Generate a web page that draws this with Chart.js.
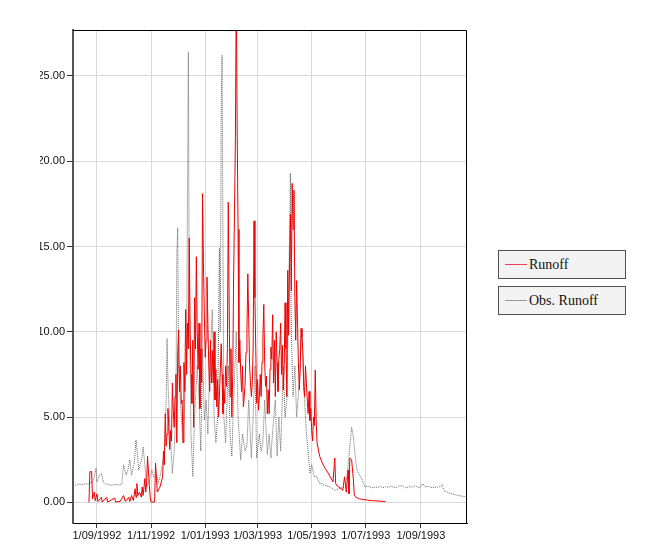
<!DOCTYPE html>
<html>
<head>
<meta charset="utf-8">
<title>Runoff</title>
<script src="https://cdn.jsdelivr.net/npm/chart.js@4.4.1/dist/chart.umd.min.js"></script>
<style>
  html, body { margin: 0; padding: 0; background: #fff; }
  body { width: 651px; height: 558px; position: relative; overflow: hidden; }
  #wrap { position: absolute; left: 40px; top: 0; width: 437px; height: 558px; }
  #legend { position: absolute; left: 498px; top: 250px; }
  .item {
    box-sizing: border-box; width: 128px; height: 29px; margin-bottom: 7px;
    border: 1px solid #505050; background: #f3f3f3;
    display: flex; align-items: center;
    font: 14px "Liberation Serif", "Times New Roman", serif; color: #111;
  }
  .item i { display: inline-block; width: 22px; height: 0; border-top: 1px solid; margin: 0 2px 0 6px; }
</style>
</head>
<body>
<div id="wrap"><canvas id="chart"></canvas></div>
<div id="legend"></div>
<script>
// days counted from 5/08/1992
const runoffDay = [18, 19, 21, 22, 24, 25, 27, 28, 32, 33,
  38, 39, 47, 48, 53, 57, 59, 63, 64, 66,
  68, 70, 71, 72, 73, 75, 77, 78, 79, 81,
  82, 83, 84, 86, 87, 88, 92, 93, 95, 98,
  101, 102, 103, 104, 105, 106, 107, 108, 109, 110,
  111, 112, 113, 114, 115, 116, 117, 118, 119, 120,
  121, 122, 123, 124, 125, 126, 127, 128, 129, 130,
  131, 132, 133, 134, 135, 136, 137, 138, 139, 140,
  141, 142, 143, 144, 145, 146, 147, 148, 149, 150,
  151, 152, 153, 154, 155, 156, 157, 158, 159, 160,
  161, 162, 163, 164, 165, 166, 167, 168, 169, 170,
  171, 172, 173, 174, 175, 176, 177, 178, 179, 180,
  181, 182, 183, 184, 185, 186, 187, 188, 189, 190,
  191, 192, 193, 194, 195, 196, 197, 198, 199, 200,
  201, 202, 203, 204, 205, 206, 207, 208, 209, 210,
  211, 212, 213, 214, 215, 216, 217, 218, 219, 220,
  221, 222, 223, 224, 225, 226, 227, 228, 229, 230,
  231, 232, 233, 234, 235, 236, 237, 238, 239, 240,
  241, 242, 243, 244, 245, 246, 247, 248, 249, 250,
  251, 252, 253, 254, 255, 256, 257, 258, 259, 260,
  261, 262, 263, 264, 265, 266, 267, 268, 269, 270,
  271, 272, 273, 274, 275, 278, 281, 284, 286, 290,
  293, 295, 296, 298, 301, 304, 306, 308, 310, 311,
  312, 314, 316, 317, 319, 323, 329, 337, 352]
const runoff = [0, 1.8, 1.8, 0.2, 0.6, 0.1, 0.5, 0.05, 0.3, 0.02,
  0.3, 0.02, 0.25, 0.02, 0.05, 0.4, 0.05, 0.3, 0.05, 0.4,
  0.1, 0.8, 0.3, 1.1, 0.4, 0.6, 0.3, 0.9, 0.4, 1.4,
  0.6, 1.2, 2.7, 1.0, 0.3, 0.02, 0.02, 2.3, 0.6, 0.9,
  1.5, 3.0, 2.2, 5.2, 3.3, 4.0, 5.5, 4.4, 3.1, 4.2,
  3.6, 7.0, 5.4, 4.4, 6.2, 7.5, 3.5, 8.7, 10.1, 6.5,
  8.0, 5.8, 6.0, 3.5, 8.2, 6.5, 11.3, 7.5, 10.5, 9.0,
  15.5, 10.0, 7.5, 5.8, 9.5, 4.4, 12.0, 9.0, 14.4, 10.0,
  7.8, 10.5, 5.5, 9.0, 7.0, 18.1, 14.0, 11.0, 8.5, 9.5,
  13.2, 10.5, 8.0, 6.5, 9.5, 7.0, 8.9, 7.0, 10.0, 6.0,
  7.8, 5.6, 7.2, 5.0, 6.2, 7.8, 9.3, 7.5, 5.2, 6.6,
  5.8, 8.0, 6.8, 9.0, 17.6, 11.4, 6.2, 9.0, 5.0, 7.5,
  13.2, 17.0, 21.4, 30, 22, 16.0, 8.2, 9.5, 7.6, 6.5,
  8.0, 5.6, 6.2, 7.0, 8.8, 10.0, 13.4, 10.7, 8.0, 7.0,
  6.2, 7.0, 9.0, 16.5, 12.0, 8.9, 5.8, 7.2, 5.4, 6.2,
  7.5, 6.2, 8.2, 9.6, 11.6, 8.2, 6.8, 7.4, 5.2, 6.6,
  5.2, 7.8, 9.1, 8.4, 11.0, 7.0, 9.5, 6.2, 10.0, 8.2,
  6.5, 8.4, 9.0, 10.5, 7.5, 9.2, 6.6, 8.0, 11.7, 9.0,
  6.2, 13.6, 9.8, 14.0, 16.9, 12.4, 18.7, 16.0, 18.3, 12.0,
  9.5, 13.0, 10.5, 8.2, 6.6, 7.8, 10.2, 9.7, 8.9, 6.8,
  6.2, 8.0, 7.0, 6.0, 5.2, 6.5, 4.8, 5.5, 4.2, 3.6,
  5.0, 4.5, 7.75, 4.8, 3.5, 2.7, 2.3, 2.0, 1.85, 1.5,
  1.2, 2.6, 1.1, 0.95, 0.85, 0.7, 1.5, 0.6, 1.9, 0.5,
  2.6, 2.5, 1.3, 0.4, 0.3, 0.2, 0.15, 0.1, 0.05]

const obsDay = [0, 3, 7, 10, 14, 17, 19, 21, 24, 26, 27, 29, 32, 34, 36, 39, 44, 48, 53, 55,
  57, 60, 62, 64, 66, 69, 71, 73, 74, 77, 79, 81, 83, 86, 89, 91, 94, 96, 98, 100,
  103, 105, 106, 107, 109, 112, 114, 116, 117, 118, 119, 122, 124, 126, 128, 130, 131, 133, 135, 137,
  140, 142, 144, 146, 148, 150, 152, 154, 157, 159, 161, 163, 165, 166, 167, 168, 169, 170, 172, 175,
  177, 179, 181, 184, 186, 189, 191, 194, 196, 198, 201, 203, 205, 207, 210, 212, 214, 216, 219, 221,
  223, 225, 228, 230, 232, 234, 237, 239, 241, 243, 245, 246, 248, 250, 252, 255, 258, 260, 263, 265,
  267, 269, 272, 275, 278, 281, 284, 290, 295, 299, 303, 307, 310, 312, 314, 316, 318, 320, 323, 326,
  329, 332, 335, 338, 341, 344, 346, 349, 352, 355, 358, 361, 364, 367, 369, 372, 375, 378, 380, 383,
  385, 388, 391, 394, 397, 400, 402, 405, 408, 411, 414, 416, 418, 422, 427, 434, 440, 444]
const obsRunoff = [1.05, 1.0, 1.08, 1.02, 1.1, 1.05, 1.2, 1.1, 1.5, 2.0, 1.2, 1.5, 1.7, 1.2, 1.1, 1.05, 1.0, 1.05, 1.02, 1.1,
  2.2, 1.6, 1.9, 2.5, 1.6, 2.3, 3.65, 2.6, 1.9, 2.4, 3.25, 2.2, 0.9, 1.3, 1.9, 1.5, 1.6, 1.1, 1.5, 2.0,
  3.0, 6.0, 9.6, 7.1, 4.5, 1.7, 3.0, 5.5, 14.5, 16.1, 8.0, 5.0, 3.5, 6.0, 9.0, 26.4, 12.0, 4.0, 1.5, 5.0,
  8.0, 6.0, 3.0, 9.0, 4.8, 6.0, 4.0, 8.0, 11.3, 5.0, 3.5, 5.0, 14.9, 10.0, 23.2, 26.2, 15.0, 5.0, 3.5, 8.0,
  4.0, 2.7, 6.0, 10.0, 5.0, 2.5, 4.0, 3.0, 3.3, 6.0, 2.6, 5.0, 8.0, 2.6, 4.0, 3.0, 3.5, 6.0, 2.8, 4.0,
  2.6, 4.2, 6.0, 2.7, 5.0, 3.0, 8.0, 5.0, 6.0, 12.0, 19.3, 10.0, 6.2, 8.0, 5.0, 7.0, 10.1, 7.0, 4.0, 3.0,
  1.7, 2.2, 1.5, 1.5, 1.1, 1.1, 1.0, 0.9, 0.7, 0.8, 0.85, 0.9, 2.1, 3.3, 4.4, 3.8, 2.7, 1.9, 1.6, 1.3,
  0.9, 0.95, 0.9, 0.85, 0.9, 0.88, 0.95, 0.85, 0.92, 0.88, 0.95, 0.9, 0.85, 0.95, 1.0, 0.95, 0.85, 0.9, 0.92, 0.88,
  0.98, 0.9, 0.85, 1.1, 0.9, 0.95, 0.92, 0.85, 0.9, 0.88, 0.95, 1.05, 0.7, 0.6, 0.5, 0.4, 0.35, 0.3]

const tickDays = [27, 88, 149, 208, 269, 330, 392]
const tickLabels = ["1/09/1992", "1/11/1992", "1/01/1993", "1/03/1993", "1/05/1993", "1/07/1993", "1/09/1993"]
const yTicks = [0, 5, 10, 15, 20, 25]

const toPoints = (days, values) => days.map((d, i) => ({ x: d, y: values[i] }))

Chart.defaults.font.family = "'Liberation Sans', Arial, sans-serif"
Chart.defaults.font.size = 11
Chart.defaults.color = "#111"

// black frame on the top and right of the plot area
const framePlugin = {
  id: "frame",
  afterDraw(chart) {
    const { ctx, chartArea: a } = chart
    ctx.save()
    ctx.strokeStyle = "#000"
    ctx.lineWidth = 1
    ctx.beginPath()
    ctx.moveTo(a.left, a.top + 0.5)
    ctx.lineTo(a.right - 0.5, a.top + 0.5)
    ctx.lineTo(a.right - 0.5, a.bottom)
    ctx.stroke()
    ctx.restore()
  },
}

const chart = new Chart(document.getElementById("chart"), {
  type: "line",
  data: {
    datasets: [
      {
        label: "Runoff",
        data: toPoints(runoffDay, runoff),
        borderColor: "#ee0000",
        borderWidth: 1,
      },
      {
        label: "Obs. Runoff",
        data: toPoints(obsDay, obsRunoff),
        borderColor: "#666666",
        borderWidth: 1,
        borderDash: [1, 1],
      },
    ],
  },
  options: {
    responsive: true,
    maintainAspectRatio: false,
    animation: false,
    elements: { point: { radius: 0 }, line: { tension: 0 } },
    layout: { padding: { top: 30, right: 10, left: 0, bottom: 0 } },
    plugins: { legend: { display: false }, tooltip: { enabled: false } },
    scales: {
      x: {
        type: "linear",
        min: 0,
        max: 444,
        afterBuildTicks: (s) => { s.ticks = tickDays.map((v) => ({ value: v })) },
        afterFit: (s) => { s.height = 35 },
        ticks: {
          autoSkip: false,
          maxRotation: 0,
          padding: 1,
          callback: (v) => tickLabels[tickDays.indexOf(v)],
        },
        grid: { color: "#d9d9d9", tickColor: "#333", tickLength: 5 },
        border: { color: "#000", width: 1 },
      },
      y: {
        min: -1.21,
        max: 27.69,
        afterBuildTicks: (s) => { s.ticks = yTicks.map((v) => ({ value: v })) },
        afterFit: (s) => { s.width = 33 },
        ticks: { padding: 2, callback: (v) => v.toFixed(2) },
        grid: { color: "#d9d9d9", tickColor: "#333", tickLength: 6 },
        border: { color: "#555", width: 2 },
      },
    },
  },
  plugins: [framePlugin],
})

// legend boxes on the right
const legend = document.getElementById("legend")
chart.data.datasets.forEach((ds) => {
  const item = document.createElement("div")
  item.className = "item"
  const line = document.createElement("i")
  line.style.borderTopColor = ds.label === "Runoff" ? "#f04050" : "#999"
  item.appendChild(line)
  item.appendChild(document.createTextNode(ds.label))
  legend.appendChild(item)
})
</script>
</body>
</html>
